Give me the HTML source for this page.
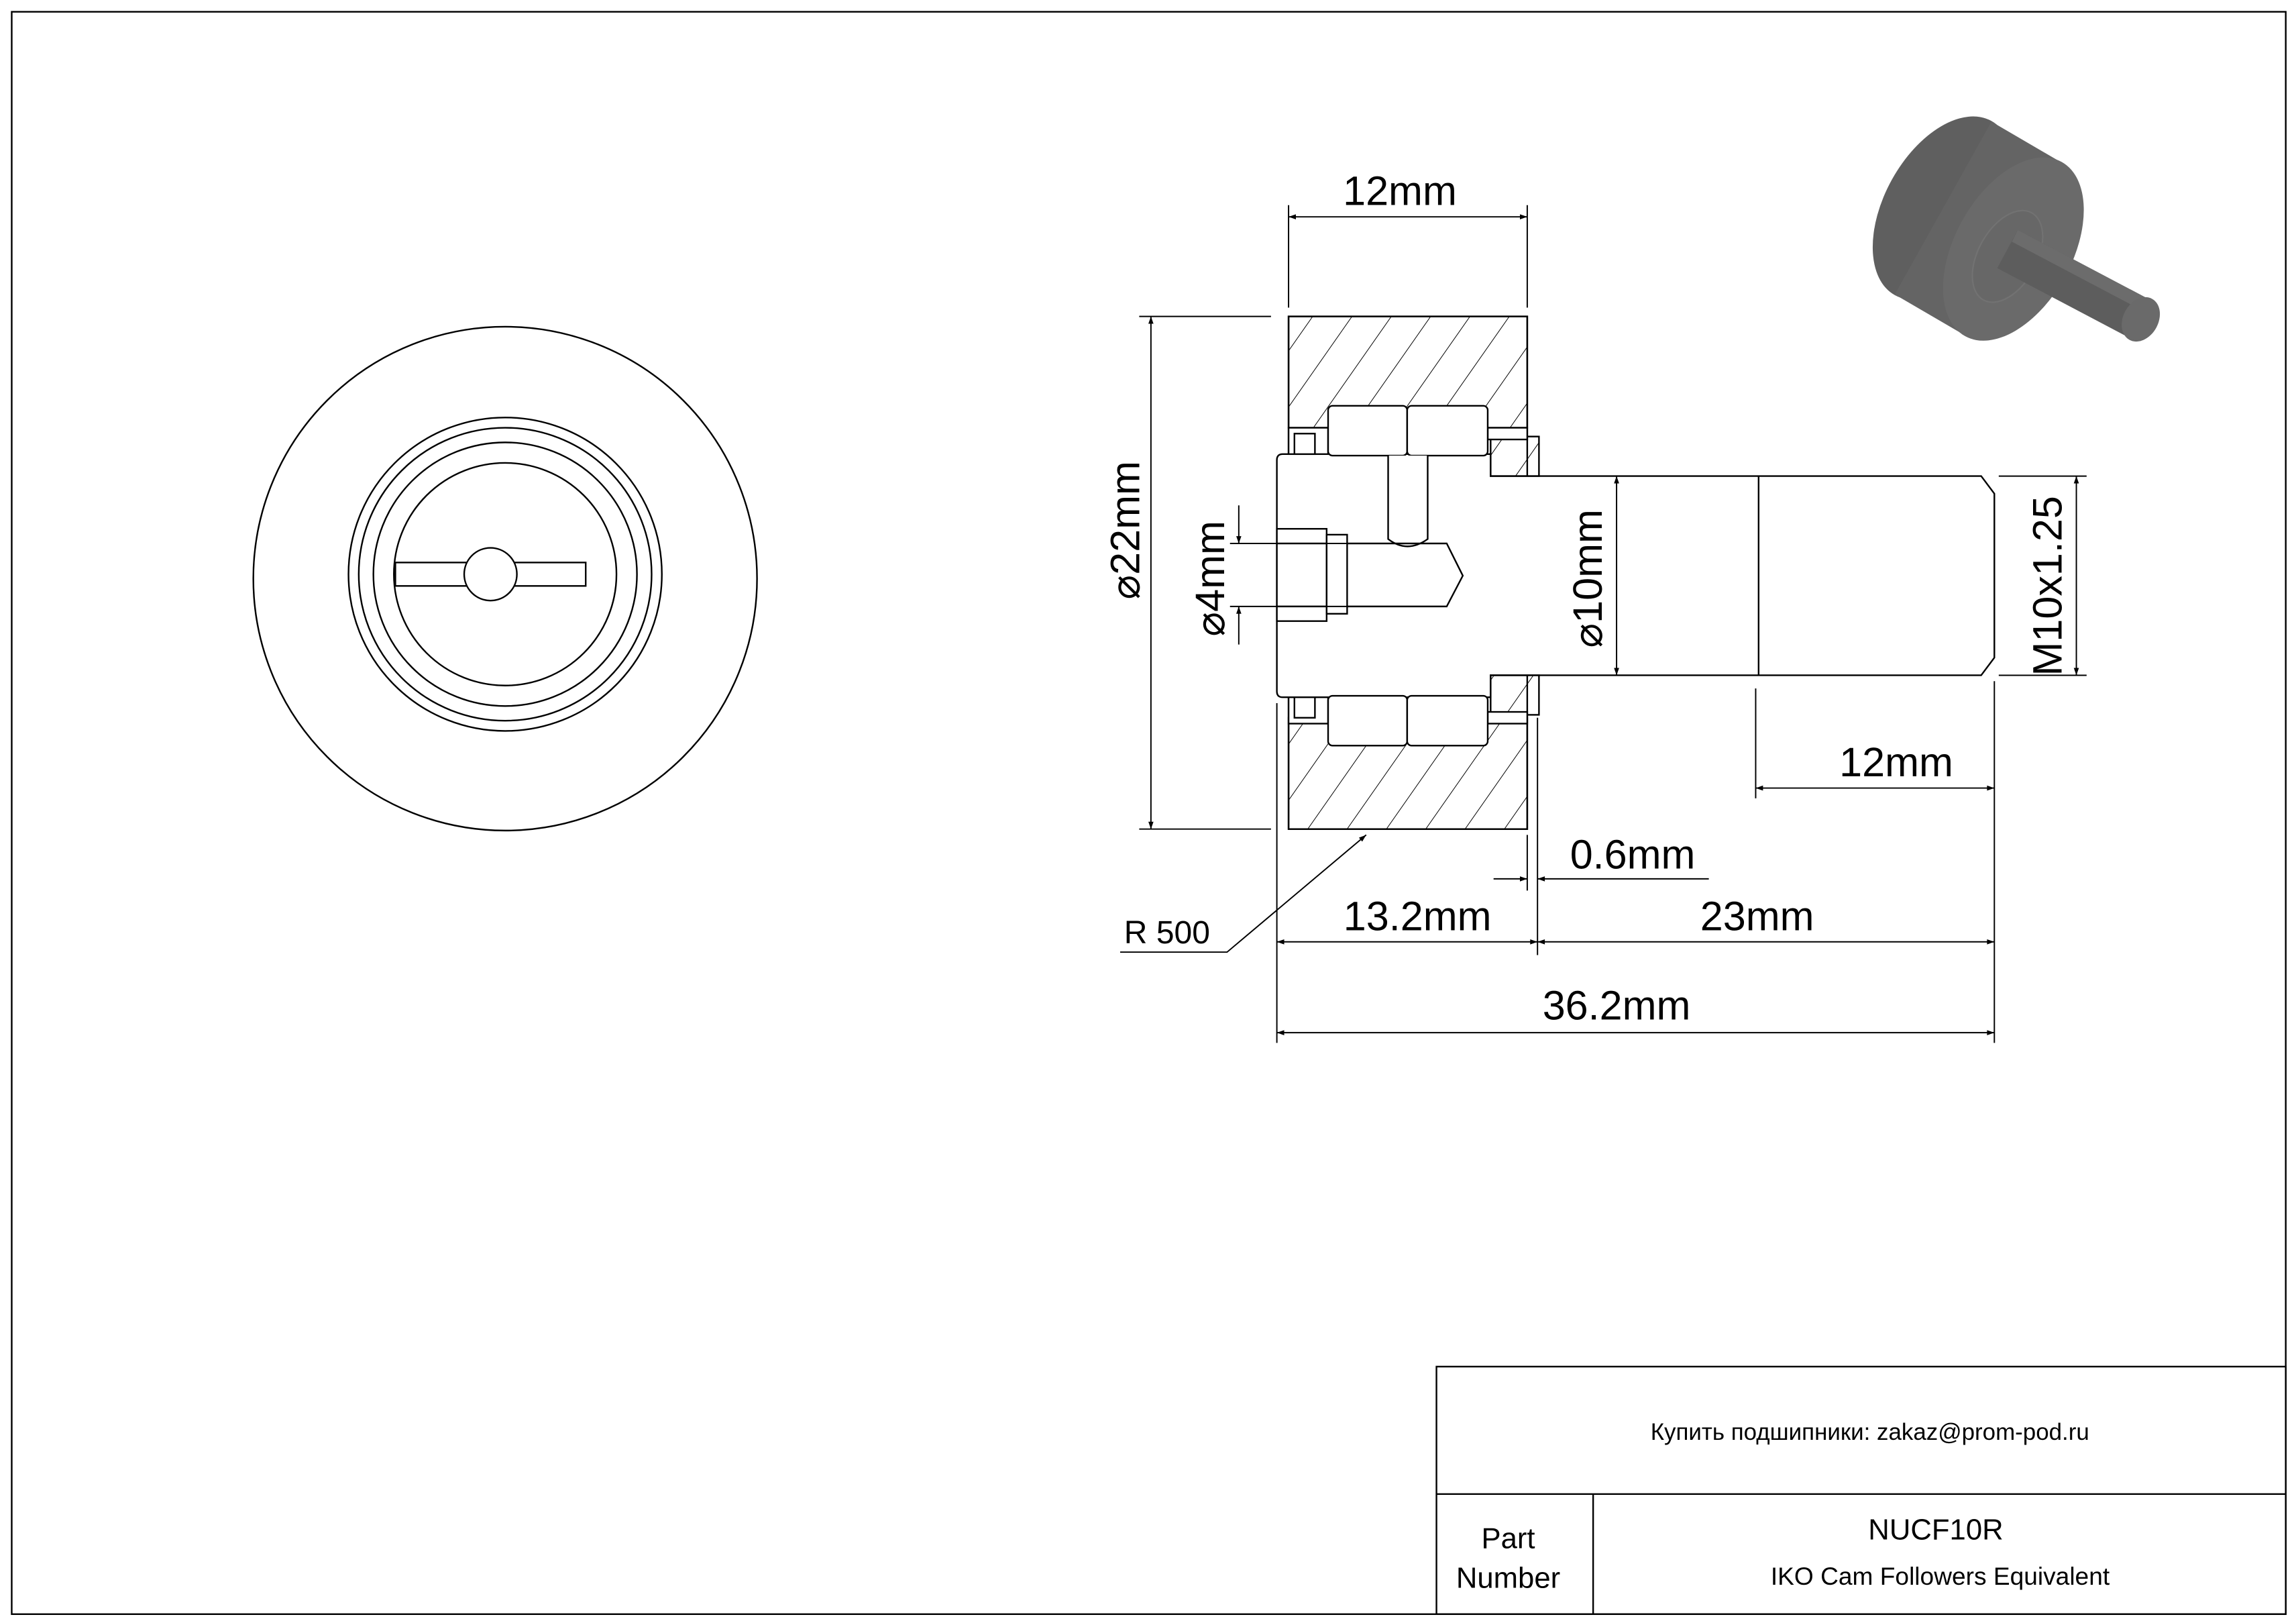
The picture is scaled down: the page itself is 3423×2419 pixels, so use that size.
<!DOCTYPE html>
<html><head><meta charset="utf-8"><style>html,body{margin:0;padding:0;background:#fff}svg{display:block}</style></head>
<body>
<svg width="3423" height="2419" viewBox="0 0 1568 1108" xmlns="http://www.w3.org/2000/svg" font-family="Liberation Sans, DejaVu Sans, sans-serif">
<defs>
<pattern id="h" patternUnits="userSpaceOnUse" width="22" height="22" patternTransform="rotate(35)">
<line x1="0" y1="0" x2="0" y2="22" stroke="#000" stroke-width="0.9"/>
</pattern>
<marker id="a" viewBox="0 0 10 10" refX="10" refY="5" markerWidth="14" markerHeight="5" markerUnits="userSpaceOnUse" orient="auto-start-reverse">
<path d="M0,1.5 L10,5 L0,8.5 z" fill="#000"/>
</marker>
</defs>
<rect x="0" y="0" width="1568" height="1108" fill="#fff"/>
<g fill="none" stroke="#000" stroke-width="1.1">
<rect x="8" y="8" width="1553" height="1094"/>
<rect x="981" y="933" width="580" height="169"/>
<line x1="981" y1="1020" x2="1561" y2="1020"/>
<line x1="1088" y1="1020" x2="1088" y2="1102"/>
<circle cx="345" cy="395" r="172"/>
<circle cx="345" cy="392" r="107"/>
<circle cx="345" cy="392" r="100"/>
<circle cx="345" cy="392" r="90"/>
<circle cx="345" cy="392" r="76"/>
<rect x="270" y="384" width="130" height="16" fill="#fff"/>
<circle cx="335" cy="392" r="18" fill="#fff"/>
</g>
<g stroke="#000" stroke-width="1.1">
<rect x="880" y="216" width="163" height="76" fill="url(#h)"/>
<rect x="880" y="490" width="163" height="76" fill="url(#h)"/>
<rect x="880" y="216" width="163" height="350" fill="none"/>
<path d="M876,310 H1018 V325 H1353 L1362,337 V449 L1353,461 H1018 V476 H876 Q872,476 872,472 V314 Q872,310 876,310 Z" fill="#fff"/>
<line x1="1201" y1="325" x2="1201" y2="461"/>
<rect x="1018" y="298" width="33" height="27" fill="url(#h)"/>
<rect x="1018" y="461" width="33" height="27" fill="url(#h)"/>
<rect x="880" y="292" width="27" height="18" fill="#fff"/>
<rect x="884" y="296" width="14" height="14" fill="#fff"/>
<rect x="880" y="476" width="27" height="18" fill="#fff"/>
<rect x="884" y="476" width="14" height="14" fill="#fff"/>
<rect x="1016" y="292" width="27" height="8" fill="#fff"/>
<rect x="1016" y="486" width="27" height="8" fill="#fff"/>
<rect x="907" y="277" width="54" height="34" rx="3" fill="#fff"/>
<rect x="961" y="277" width="55" height="34" rx="3" fill="#fff"/>
<rect x="907" y="475" width="54" height="34" rx="3" fill="#fff"/>
<rect x="961" y="475" width="55" height="34" rx="3" fill="#fff"/>
<path d="M948,311 V368 Q961,378 975,368 V311" fill="#fff"/>
<rect x="872" y="361" width="34" height="63" fill="#fff"/>
<line x1="872" y1="371" x2="906" y2="371"/><line x1="872" y1="414" x2="906" y2="414"/>
<rect x="906" y="365" width="14" height="54" fill="#fff"/>
<path d="M920,371 H988 L999,393 L988,414 H920" fill="none"/>
</g>
<g stroke="#000" stroke-width="0.9" fill="none">
<line x1="880" y1="140" x2="880" y2="210"/><line x1="1043" y1="140" x2="1043" y2="210"/>
<line x1="880" y1="148" x2="1043" y2="148" marker-start="url(#a)" marker-end="url(#a)"/>
<line x1="778" y1="216" x2="868" y2="216"/><line x1="778" y1="566" x2="868" y2="566"/>
<line x1="786" y1="216" x2="786" y2="566" marker-start="url(#a)" marker-end="url(#a)"/>
<line x1="840" y1="371" x2="920" y2="371"/><line x1="840" y1="414" x2="920" y2="414"/>
<line x1="846" y1="345" x2="846" y2="371" marker-end="url(#a)"/>
<line x1="846" y1="440" x2="846" y2="414" marker-end="url(#a)"/>
<line x1="1104" y1="325" x2="1104" y2="461" marker-start="url(#a)" marker-end="url(#a)"/>
<line x1="1365" y1="325" x2="1425" y2="325"/><line x1="1365" y1="461" x2="1425" y2="461"/>
<line x1="1418" y1="325" x2="1418" y2="461" marker-start="url(#a)" marker-end="url(#a)"/>
<line x1="1199" y1="470" x2="1199" y2="545"/>
<line x1="1362" y1="465" x2="1362" y2="712"/>
<line x1="1199" y1="538" x2="1362" y2="538" marker-start="url(#a)" marker-end="url(#a)"/>
<line x1="872" y1="480" x2="872" y2="712"/>
<line x1="1050" y1="490" x2="1050" y2="652"/>
<line x1="1043" y1="570" x2="1043" y2="608"/>
<line x1="1020" y1="600" x2="1043" y2="600" marker-end="url(#a)"/>
<line x1="1167" y1="600" x2="1050" y2="600" marker-end="url(#a)"/>
<line x1="872" y1="643" x2="1050" y2="643" marker-start="url(#a)" marker-end="url(#a)"/>
<line x1="1050" y1="643" x2="1362" y2="643" marker-start="url(#a)" marker-end="url(#a)"/>
<line x1="872" y1="705" x2="1362" y2="705" marker-start="url(#a)" marker-end="url(#a)"/>
<polyline points="765,650 838,650 933,570" marker-end="url(#a)"/>
</g>
<g font-size="28" fill="#000" text-anchor="middle">
<text x="956" y="140">12mm</text>
<text x="1295" y="530">12mm</text>
<text x="1115" y="593">0.6mm</text>
<text x="968" y="635">13.2mm</text>
<text x="1200" y="635">23mm</text>
<text x="1104" y="696">36.2mm</text>
<text transform="translate(778,362) rotate(-90)">⌀22mm</text>
<text transform="translate(836,395) rotate(-90)">⌀4mm</text>
<text transform="translate(1094,395) rotate(-90)">⌀10mm</text>
<text transform="translate(1408,400) rotate(-90)">M10x1.25</text>
<text x="797" y="644" font-size="22">R 500</text>
<text x="1277" y="983" font-size="16">Купить подшипники: zakaz@prom-pod.ru</text>
<text x="1030" y="1057" font-size="20">Part</text>
<text x="1030" y="1084" font-size="20">Number</text>
<text x="1322" y="1051" font-size="20">NUCF10R</text>
<text x="1325" y="1082" font-size="17">IKO Cam Followers Equivalent</text>
</g>
<g>
<ellipse cx="1327" cy="142" rx="40" ry="68" transform="rotate(29 1327 142)" fill="#5f5f5f"/>
<polygon points="1360,83 1408,111 1342,229 1294,201" fill="#646464"/>
<ellipse cx="1375" cy="170" rx="40" ry="68" transform="rotate(29 1375 170)" fill="#6a6a6a"/>
<ellipse cx="1371" cy="175" rx="20" ry="34" transform="rotate(29 1371 175)" fill="#676767" stroke="#727272" stroke-width="1"/>
<polygon points="1378,157 1469,205 1455,231 1364,183" fill="#5d5d5d"/>
<polygon points="1378,157 1469,205 1465,213 1374,165" fill="#6c6c6c"/>
<ellipse cx="1462" cy="218" rx="12" ry="16" transform="rotate(29 1462 218)" fill="#6a6a6a"/>
</g>
</svg>
</body></html>
